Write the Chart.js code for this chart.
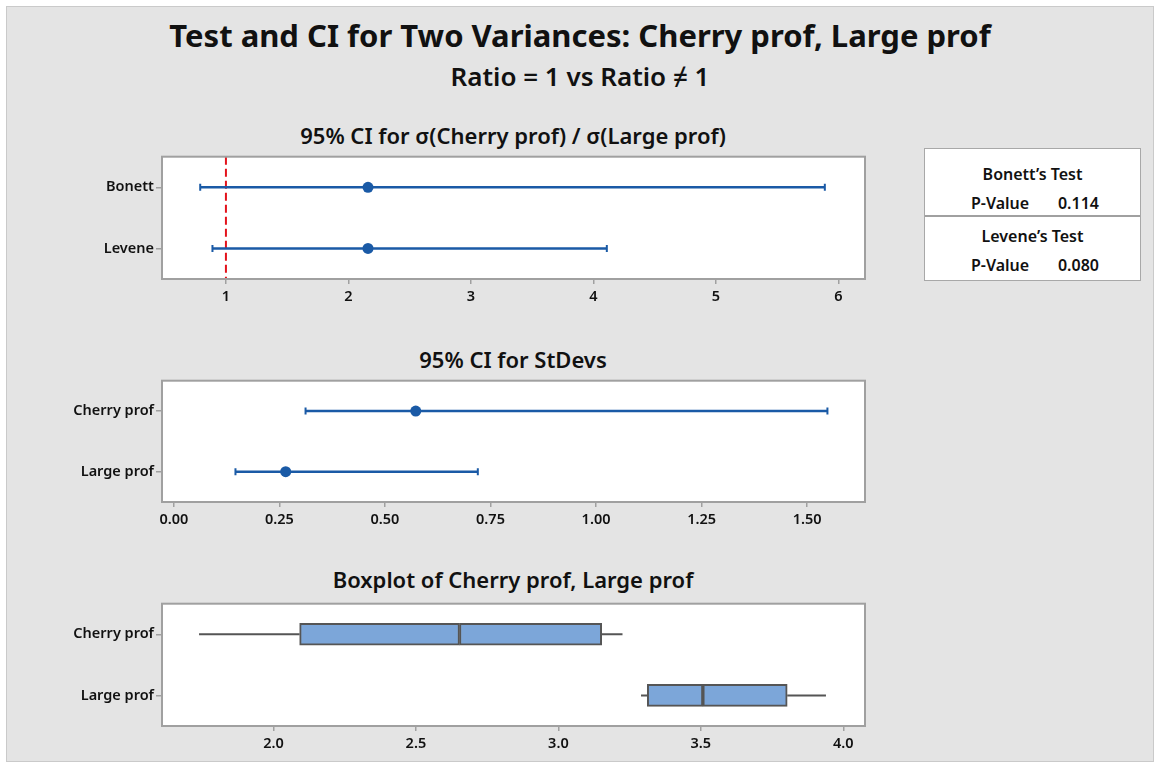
<!DOCTYPE html>
<html>
<head>
<meta charset="utf-8">
<script src="https://cdn.jsdelivr.net/npm/chart.js@4.4.1/dist/chart.umd.min.js"></script>
<style>
  html, body { margin: 0; padding: 0; background: #fff; }
  body { width: 1157px; height: 765px; position: relative; overflow: hidden; font-family: "Noto Sans", sans-serif; }
  #fig { position: absolute; left: 6px; top: 6px; width: 1146px; height: 754px; background: #e4e4e4; border: 1px solid #cacaca; }
  .t { position: absolute; text-align: center; font-weight: bold; color: #111; white-space: nowrap; line-height: 1; }
  canvas { position: absolute; left: 0; }
  #tbl { position: absolute; left: 924px; top: 148px; width: 215px; height: 131px; background: #fff; border: 1.5px solid #a8a8a8; }
  #tbl div { position: absolute; font-size: 16px; font-weight: 600; color: #111; line-height: 1; white-space: nowrap; }
  #tbl .sep { left: 0; width: 100%; height: 0; border-top: 2px solid #a0a0a0; }
</style>
</head>
<body>
<div id="fig"></div>
<div class="t" style="left:0;width:1160px;top:20px;font-size:31px;">Test and CI for Two Variances: Cherry prof, Large prof</div>
<div class="t" style="left:0;width:1160px;top:63px;font-size:26px;font-weight:600;">Ratio = 1 vs Ratio ≠ 1</div>
<div class="t" style="left:163px;width:700px;top:124px;font-size:22px;font-weight:600;">95% CI for σ(Cherry prof) / σ(Large prof)</div>
<div class="t" style="left:163px;width:700px;top:348px;font-size:22px;font-weight:600;">95% CI for StDevs</div>
<div class="t" style="left:163px;width:700px;top:568px;font-size:22px;font-weight:600;">Boxplot of Cherry prof, Large prof</div>

<canvas id="c1" width="880" height="170" style="top:146px"></canvas>
<canvas id="c2" width="880" height="170" style="top:370px"></canvas>
<canvas id="c3" width="880" height="165" style="top:593px"></canvas>
<div id="tbl"></div>

<script>
// ratio of standard deviations
const ratioLabels = ["Bonett", "Levene"];
const ratioLower = [0.79, 0.89];
const ratioEst = [2.16, 2.16];
const ratioUpper = [5.89, 4.11];
const ratioRef = 1;
const ratioTicks = [1, 2, 3, 4, 5, 6];

// individual standard deviations
const sdLabels = ["Cherry prof", "Large prof"];
const sdLower = [0.312, 0.146];
const sdEst = [0.573, 0.265];
const sdUpper = [1.548, 0.72];
const sdTicks = [0, 0.25, 0.5, 0.75, 1.0, 1.25, 1.5];

// boxplot
const boxLabels = ["Cherry prof", "Large prof"];
const boxMin = [1.739, 3.29];
const boxQ1 = [2.092, 3.312];
const boxMed = [2.653, 3.507];
const boxQ3 = [3.152, 3.803];
const boxMax = [3.225, 3.939];
const boxTicks = [2.0, 2.5, 3.0, 3.5, 4.0];

// test results
const testNames = ["Bonett’s Test", "Levene’s Test"];
const pValues = ["0.114", "0.080"];

const blue = "#1a5aa6";
const dark = "#555555";
const tickFont = { family: "Noto Sans", size: 14.5, weight: "600" };

const frame = {
  id: "frame",
  beforeDraw(c) {
    const a = c.chartArea, ctx = c.ctx;
    ctx.save();
    ctx.fillStyle = "#fff";
    ctx.fillRect(a.left, a.top, a.right - a.left, a.bottom - a.top);
    ctx.restore();
  },
  afterDraw(c) {
    const a = c.chartArea, ctx = c.ctx;
    ctx.save();
    ctx.strokeStyle = "#a0a0a0";
    ctx.lineWidth = 2;
    ctx.strokeRect(a.left, a.top, a.right - a.left, a.bottom - a.top);
    ctx.restore();
  }
};

function panel(id, plotBottom, xMin, xMax, xTicks, dec, yLabels, datasets) {
  const cv = document.getElementById(id);
  return new Chart(cv, {
    type: "line",
    data: { datasets },
    options: {
      responsive: false,
      animation: false,
      events: [],
      layout: { padding: { top: 10, right: 15, left: 0, bottom: 0 } },
      plugins: { legend: { display: false }, tooltip: { enabled: false } },
      scales: {
        x: {
          type: "linear", min: xMin, max: xMax, offset: false,
          afterBuildTicks: s => { s.ticks = xTicks.map(v => ({ value: v })); },
          afterFit: s => { s.height = cv.height - plotBottom; },
          ticks: { callback: v => v.toFixed(dec), font: tickFont, color: "#111", padding: 4, maxRotation: 0, autoSkip: false },
          grid: { offset: false, drawOnChartArea: false, tickLength: 5, color: "#a0a0a0", lineWidth: 1.5 },
          border: { display: false }
        },
        y: {
          type: "linear", reverse: true, min: -0.5, max: 1.5, offset: false,
          afterBuildTicks: s => { s.ticks = yLabels.map((l, i) => ({ value: i })); },
          afterFit: s => { s.width = 162; },
          ticks: { callback: v => yLabels[v], font: tickFont, color: "#111", padding: 2, autoSkip: false },
          grid: { offset: false, drawOnChartArea: false, tickLength: 6, color: "#a0a0a0", lineWidth: 1.5 },
          border: { display: false }
        }
      }
    },
    plugins: [frame]
  });
}

function ciSets(lower, est, upper) {
  const sets = [{
    data: est.map((e, i) => ({ x: e, y: i })),
    showLine: false, pointStyle: "circle", pointRadius: 5.5,
    pointBackgroundColor: blue, pointBorderColor: blue, pointBorderWidth: 0
  }];
  lower.forEach((lo, i) => sets.push({
    data: [{ x: lo, y: i }, { x: upper[i], y: i }],
    borderColor: blue, borderWidth: 2.5,
    pointStyle: "line", rotation: 90, pointRadius: 3.5,
    pointBorderColor: blue, pointBorderWidth: 2
  }));
  return sets;
}

// panel 1
const set1 = ciSets(ratioLower, ratioEst, ratioUpper);
set1.push({
  data: [{ x: ratioRef, y: -0.5 }, { x: ratioRef, y: 1.5 }],
  borderColor: "#e3121b", borderWidth: 2, borderDash: [8, 4], pointRadius: 0
});
panel("c1", 133, 0.478, 6.218, ratioTicks, 0, ratioLabels, set1);

// panel 2
panel("c2", 132, -0.028, 1.637, sdTicks, 2, sdLabels, ciSets(sdLower, sdEst, sdUpper));

// panel 3
const set3 = [
  { type: "bar", indexAxis: "y", grouped: false, barThickness: 22,
    data: boxQ1.map((q, i) => ({ x: [q, boxMed[i]], y: i })),
    backgroundColor: "#7ca6d9", borderColor: dark, borderWidth: 2, borderSkipped: false },
  { type: "bar", indexAxis: "y", grouped: false, barThickness: 22,
    data: boxMed.map((m, i) => ({ x: [m, boxQ3[i]], y: i })),
    backgroundColor: "#7ca6d9", borderColor: dark, borderWidth: 2, borderSkipped: false }
];
boxMin.forEach((lo, i) => {
  set3.push({ data: [{ x: lo, y: i }, { x: boxQ1[i], y: i }], borderColor: dark, borderWidth: 2, pointRadius: 0 });
  set3.push({ data: [{ x: boxQ3[i], y: i }, { x: boxMax[i], y: i }], borderColor: dark, borderWidth: 2, pointRadius: 0 });
});
panel("c3", 133, 1.609, 4.076, boxTicks, 1, boxLabels, set3);

// results table
const tbl = document.getElementById("tbl");
const rowTops = [[17, 46], [79, 108]];
testNames.forEach((name, i) => {
  const n = document.createElement("div");
  n.textContent = name;
  n.style.cssText = `left:0;width:100%;text-align:center;top:${rowTops[i][0]}px`;
  tbl.appendChild(n);
  const p = document.createElement("div");
  p.textContent = "P-Value";
  p.style.cssText = `left:46px;top:${rowTops[i][1]}px`;
  tbl.appendChild(p);
  const v = document.createElement("div");
  v.textContent = pValues[i];
  v.style.cssText = `right:41px;top:${rowTops[i][1]}px`;
  tbl.appendChild(v);
});
const sep = document.createElement("div");
sep.className = "sep";
sep.style.top = "66px";
tbl.appendChild(sep);
</script>
</body>
</html>
